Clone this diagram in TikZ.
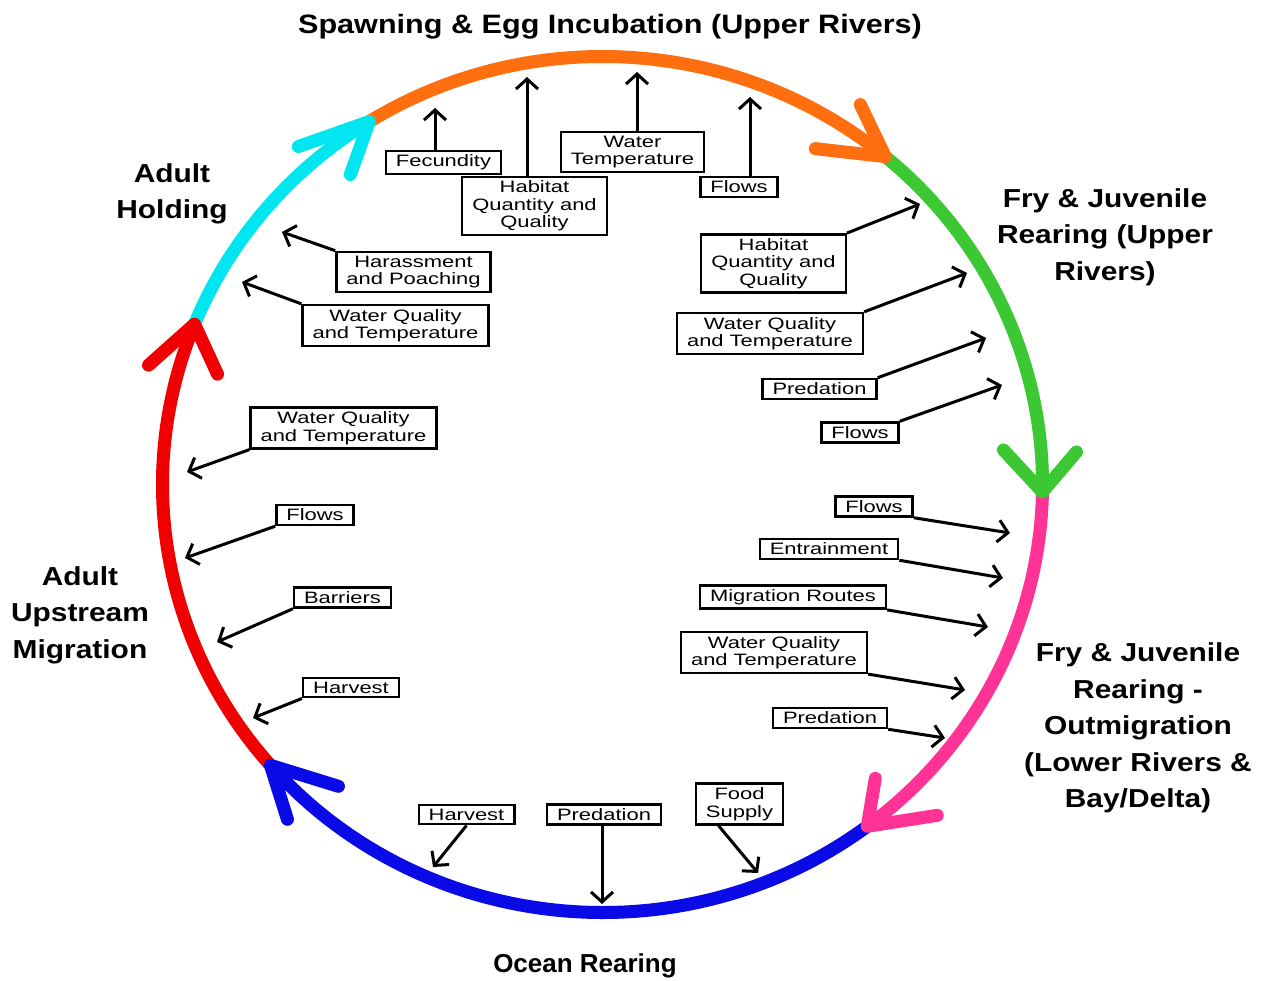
\documentclass[tikz,border=0pt]{standalone}
\usepackage{fontspec}
\setmainfont{Liberation Sans}
\newfontfamily\boxfont{Liberation Sans}[FakeStretch=1.33]
\newfontfamily\stagefont{Liberation Sans}[FakeStretch=1.15]
\usetikzlibrary{arrows.meta}

\definecolor{ringcyan}{RGB}{0,230,240}
\definecolor{ringorange}{RGB}{255,110,15}
\definecolor{ringgreen}{RGB}{60,200,50}
\definecolor{ringpink}{RGB}{255,50,150}
\definecolor{ringblue}{RGB}{10,10,230}
\definecolor{ringred}{RGB}{240,0,0}

\tikzset{
  cause/.style={draw, line width=2.4pt, align=center, inner xsep=10pt, inner ysep=4pt,
    font=\boxfont\fontsize{16.5}{17.5}\selectfont},
  stage/.style={align=center, font=\stagefont\bfseries\fontsize{26}{36.5}\selectfont},
  hit/.style={-{Straight Barb[length=10pt,width=22pt]}, line width=3pt},
  ring/.style={line width=13pt},
  chevron/.style={line width=13pt, line cap=round, line join=round},
}

\begin{document}
\begin{tikzpicture}[x=1pt,y=-1pt]
\useasboundingbox (0,0) rectangle (1271,981);

% life stages
\node[stage, font=\stagefont\bfseries\fontsize{26.6}{30}\selectfont] (spawn) at (610,27) {Spawning \& Egg Incubation (Upper Rivers)};
\node[stage] (hold) at (172,194) {Adult\\Holding};
\node[stage] (fryup) at (1105,237) {Fry \& Juvenile\\Rearing (Upper\\Rivers)};
\node[stage] (upmig) at (80,615) {Adult\\Upstream\\Migration};
\node[stage] (outmig) at (1138,728) {Fry \& Juvenile\\Rearing -\\Outmigration\\(Lower Rivers \&\\Bay/Delta)};
\node[font=\bfseries\fontsize{26}{30}\selectfont] (ocean) at (585,966) {Ocean Rearing};

% the cycle
\coordinate (tipR) at ([shift={(602.5,484.5)}]-158:440 and 428);
\coordinate (tipC) at ([shift={(602.5,484.5)}]-122:440 and 428);
\coordinate (tipO) at ([shift={(602.5,484.5)}]-50:440 and 428);
\coordinate (tipG) at ([shift={(602.5,484.5)}]1:440 and 428);
\coordinate (tipP) at ([shift={(602.5,484.5)}]53:440 and 428);
\coordinate (tipB) at ([shift={(602.5,484.5)}]139:440 and 428);
\draw[ring, ringblue] (tipP) arc[start angle=53, end angle=139, x radius=440, y radius=428];
\draw[ring, ringpink] (tipG) arc[start angle=1, end angle=53, x radius=440, y radius=428];
\draw[ring, ringgreen] (tipO) arc[start angle=-50, end angle=1, x radius=440, y radius=428];
\draw[ring, ringorange] (tipC) arc[start angle=-122, end angle=-50, x radius=440, y radius=428];
\draw[ring, ringcyan] (tipR) arc[start angle=-158, end angle=-122, x radius=440, y radius=428];
\draw[ring, ringred] (tipB) arc[start angle=139, end angle=202, x radius=440, y radius=428];
\draw[chevron, ringcyan] (tipC) ++(-71,25) -- (tipC) -- ++(-19,53);
\draw[chevron, ringorange] (tipO) ++(-70,-8) -- (tipO) -- ++(-25,-52);
\draw[chevron, ringgreen] (tipG) ++(-39,-42) -- (tipG) -- ++(34,-40);
\draw[chevron, ringpink] (tipP) ++(8,-48) -- (tipP) -- ++(70,-11);
\draw[chevron, ringblue] (tipB) ++(17,54) -- (tipB) -- ++(68,21);
\draw[chevron, ringred] (tipR) ++(-46,41) -- (tipR) -- ++(23,50);

% spawning
\node[cause] (fec) at (443.5,162.5) {Fecundity};
\node[cause] (habS) at (534.5,206) {Habitat\\Quantity and\\Quality};
\node[cause] (wtS) at (632.5,152) {Water\\Temperature};
\node[cause] (flS) at (739,187) {Flows};
\coordinate (fecT) at (435,108);
\coordinate (habST) at (527,77);
\coordinate (wtST) at (637,72);
\coordinate (flST) at (750,97);
\draw[hit] (fecT |- fec.north) -- (fecT);
\draw[hit] (habST |- habS.north) -- (habST);
\draw[hit] (wtST |- wtS.north) -- (wtST);
\draw[hit] (flST |- flS.north) -- (flST);

% holding
\node[cause] (har) at (413.5,272) {Harassment\\and Poaching};
\node[cause] (wqH) at (395.5,325.5) {Water Quality\\and Temperature};
\coordinate (harT) at (282,232);
\coordinate (wqHT) at (242,282);
\draw[hit] (har.north west) -- (harT);
\draw[hit] (wqH.north west) -- (wqHT);

% upstream migration
\node[cause] (wqU) at (343.5,428) {Water Quality\\and Temperature};
\node[cause] (flU) at (315,515) {Flows};
\node[cause] (bar) at (342.5,597.5) {Barriers};
\node[cause] (harU) at (351,687.5) {Harvest};
\coordinate (wqUT) at (187,472);
\coordinate (flUT) at (185,558);
\coordinate (barT) at (217,642);
\coordinate (harUT) at (253,718);
\draw[hit] (wqU.south west) -- (wqUT);
\draw[hit] (flU.south west) -- (flUT);
\draw[hit] (bar.south west) -- (barT);
\draw[hit] (harU.south west) -- (harUT);

% ocean
\node[cause] (harO) at (466.5,814.5) {Harvest};
\node[cause] (preO) at (604,814.5) {Predation};
\node[cause] (food) at (739.5,804) {Food\\Supply};
\coordinate (harOT) at (433,867);
\coordinate (preOT) at (602,904);
\coordinate (foodT) at (758,873);
\draw[hit] (harO.south) -- (harOT);
\draw[hit] (preOT |- preO.south) -- (preOT);
\draw[hit] ([xshift=-21pt]food.south) -- (foodT);

% fry upper rivers
\node[cause] (habF) at (773.5,263.5) {Habitat\\Quantity and\\Quality};
\node[cause] (wqF) at (770,333.5) {Water Quality\\and Temperature};
\node[cause] (preF) at (819.5,389) {Predation};
\node[cause] (flF) at (860,432.5) {Flows};
\coordinate (habFT) at (920,204);
\coordinate (wqFT) at (967,273);
\coordinate (preFT) at (986,338);
\coordinate (flFT) at (1002,385);
\draw[hit] (habF.north east) -- (habFT);
\draw[hit] (wqF.north east) -- (wqFT);
\draw[hit] (preF.north east) -- (preFT);
\draw[hit] (flF.north east) -- (flFT);

% outmigration
\node[cause] (flL) at (874,506.5) {Flows};
\node[cause] (ent) at (829,549) {Entrainment};
\node[cause] (mig) at (793,597) {Migration Routes};
\node[cause] (wqL) at (774,652.5) {Water Quality\\and Temperature};
\node[cause] (preL) at (830,718) {Predation};
\coordinate (flLT) at (1010,533);
\coordinate (entT) at (1003,578);
\coordinate (migT) at (988,627);
\coordinate (wqLT) at (965,690);
\coordinate (preLT) at (945,738);
\draw[hit] (flL.south east) -- (flLT);
\draw[hit] (ent.south east) -- (entT);
\draw[hit] (mig.south east) -- (migT);
\draw[hit] (wqL.south east) -- (wqLT);
\draw[hit] (preL.south east) -- (preLT);
\end{tikzpicture}
\end{document}
